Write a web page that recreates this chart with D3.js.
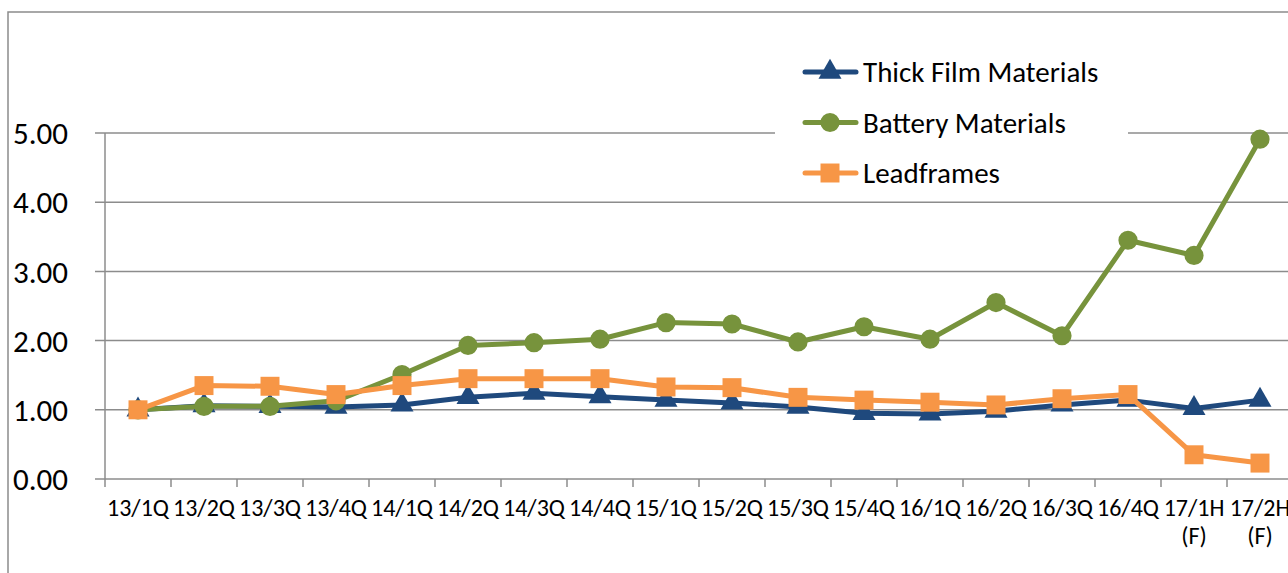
<!DOCTYPE html>
<html>
<head>
<meta charset="utf-8">
<script src="https://cdn.jsdelivr.net/npm/d3@7"></script>
<style>
  body { margin: 0; background: #fff; }
  svg { display: block; font-family: Carlito, Calibri, Lato, sans-serif; }
</style>
</head>
<body>
<svg id="chart" width="1288" height="573"></svg>
<script>
// categories along the bottom, the last two are forecasts
var quarters = ["13/1Q","13/2Q","13/3Q","13/4Q","14/1Q","14/2Q","14/3Q","14/4Q",
	"15/1Q","15/2Q","15/3Q","15/4Q","16/1Q","16/2Q","16/3Q","16/4Q","17/1H","17/2H"];
var subLabels = ["","","","","","","","","","","","","","","","","(F)","(F)"];
var yTicks = [0, 1, 2, 3, 4, 5];

// index values (13/1Q = 1.00)
var thickFilm = [1.00,1.06,1.05,1.04,1.07,1.18,1.24,1.19,1.14,1.10,1.04,0.95,0.94,0.98,1.07,1.14,1.02,1.14];
var battery   = [1.00,1.05,1.05,1.13,1.51,1.93,1.97,2.02,2.26,2.24,1.98,2.20,2.02,2.55,2.07,3.45,3.23,4.91];
var leadframes= [1.00,1.35,1.34,1.22,1.35,1.45,1.45,1.45,1.33,1.32,1.18,1.14,1.11,1.07,1.16,1.22,0.35,0.23];

var seriesNames = ["Thick Film Materials","Battery Materials","Leadframes"];
var seriesColors = ["#1f497d","#77933c","#f79646"];
var seriesShapes = [d3.symbolTriangle, d3.symbolCircle, d3.symbolSquare];
var seriesSizes = [230, 290, 360];

var svg = d3.select("#chart");
var grid = "#8c8c8c";

// plot box (note: "top" is taken by window, so pTop etc.)
var pLeft = 105, pRight = 1293, pTop = 133, pBottom = 479;

var x = d3.scaleBand().domain(quarters).range([pLeft, pRight]);
var y = d3.scaleLinear().domain([0, 5]).range([pBottom, pTop]);

// outer frame (only top and left visible)
svg.append("path")
	.attr("d", "M8,600 L8,12 L1300,12")
	.attr("fill", "none").attr("stroke", grid).attr("stroke-width", 1.5);

// gridlines + y labels
svg.append("g").selectAll("line").data(yTicks).enter().append("line")
	.attr("x1", pLeft - 10).attr("x2", pRight)
	.attr("y1", function (d) { return y(d); }).attr("y2", function (d) { return y(d); })
	.attr("stroke", grid).attr("stroke-width", 1.5);

svg.append("g").selectAll("text").data(yTicks).enter().append("text")
	.attr("x", 68).attr("y", function (d) { return y(d); })
	.attr("dy", "0.36em")
	.attr("text-anchor", "end")
	.attr("font-size", 31).attr("fill", "#000")
	.text(function (d) { return d3.format(".2f")(d); });

// y axis line
svg.append("line")
	.attr("x1", pLeft).attr("x2", pLeft).attr("y1", pTop).attr("y2", pBottom)
	.attr("stroke", grid).attr("stroke-width", 1.5);

// x axis: tick marks on band boundaries
var xAxis = d3.axisBottom(x).tickSize(0).tickFormat("");
var gx = svg.append("g").attr("transform", "translate(0," + pBottom + ")").call(xAxis)
	.attr("font-family", null).attr("font-size", null);
gx.select(".domain").remove();
gx.selectAll(".tick").remove();

var bounds = quarters.map(function (q) { return x(q); }).concat([pRight]);
gx.selectAll("line.tk").data(bounds).enter().append("line")
	.attr("class", "tk")
	.attr("x1", function (d) { return d; }).attr("x2", function (d) { return d; })
	.attr("y1", 0).attr("y2", 8)
	.attr("stroke", grid).attr("stroke-width", 1.5);

gx.selectAll("text.lb").data(quarters).enter().append("text")
	.attr("class", "lb")
	.attr("x", function (d) { return x(d) + x.bandwidth() / 2; })
	.attr("y", 37)
	.attr("text-anchor", "middle")
	.attr("font-size", 24).attr("fill", "#000")
	.text(function (d) { return d; });

gx.selectAll("text.sub").data(subLabels).enter().append("text")
	.attr("class", "sub")
	.attr("x", function (d, i) { return x(quarters[i]) + x.bandwidth() / 2; })
	.attr("y", 65)
	.attr("text-anchor", "middle")
	.attr("font-size", 24).attr("fill", "#000")
	.text(function (d) { return d; });

// lines + markers
var allSeries = [thickFilm, battery, leadframes];
var line = d3.line()
	.x(function (d, i) { return x(quarters[i]) + x.bandwidth() / 2; })
	.y(function (d) { return y(d); });

allSeries.forEach(function (vals, s) {
	var g = svg.append("g");
	g.append("path")
		.attr("d", line(vals))
		.attr("fill", "none")
		.attr("stroke", seriesColors[s])
		.attr("stroke-width", 5)
		.attr("stroke-linejoin", "round");
	g.selectAll("path.m").data(vals).enter().append("path")
		.attr("class", "m")
		.attr("d", d3.symbol().type(seriesShapes[s]).size(seriesSizes[s]))
		.attr("fill", seriesColors[s])
		.attr("transform", function (d, i) {
			return "translate(" + (x(quarters[i]) + x.bandwidth() / 2) + "," + y(d) + ")";
		});
});

// legend, white box hides the gridline behind it
var lg = svg.append("g");
lg.append("rect").attr("x", 775).attr("y", 48).attr("width", 353).attr("height", 148).attr("fill", "#fff");
seriesNames.forEach(function (name, s) {
	var cy = 72 + s * 50.5;
	lg.append("line")
		.attr("x1", 805).attr("x2", 856).attr("y1", cy).attr("y2", cy)
		.attr("stroke", seriesColors[s]).attr("stroke-width", 5).attr("stroke-linecap", "round");
	lg.append("path")
		.attr("d", d3.symbol().type(seriesShapes[s]).size(seriesSizes[s]))
		.attr("transform", "translate(830," + cy + ")")
		.attr("fill", seriesColors[s]);
	lg.append("text")
		.attr("x", 863).attr("y", cy).attr("dy", "0.36em")
		.attr("font-size", 29).attr("fill", "#000")
		.text(name);
});
</script>
</body>
</html>
